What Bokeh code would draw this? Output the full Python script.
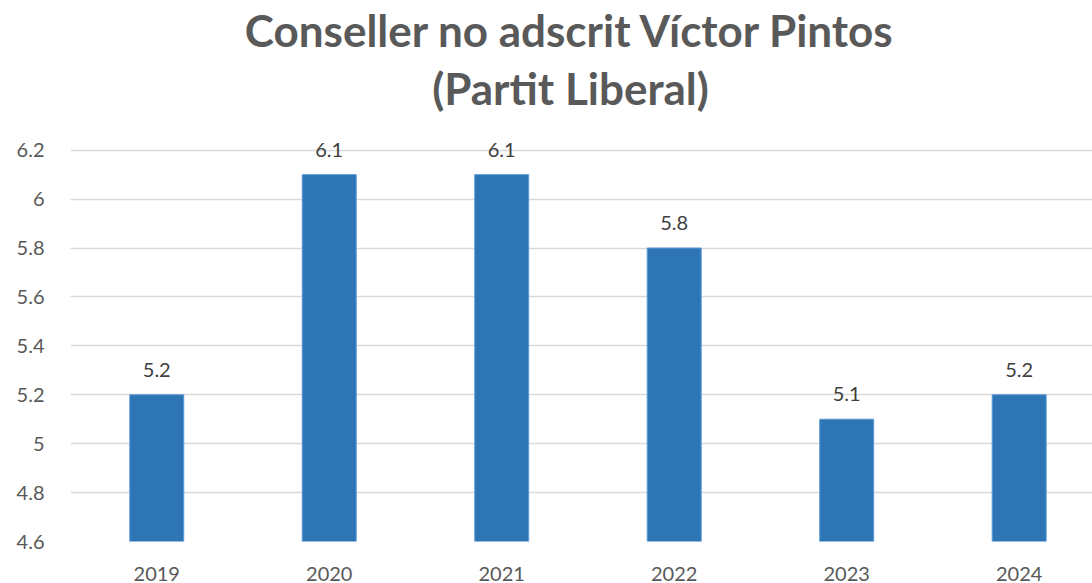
from bokeh.plotting import figure
from bokeh.models import Range1d, FixedTicker, Label, ColumnDataSource, LabelSet
from bokeh.core.properties import value
from bokeh.embed import file_html
from bokeh.resources import INLINE

years = [2019, 2020, 2021, 2022, 2023, 2024]
values = [5.2, 6.1, 6.1, 5.8, 5.1, 5.2]
labels = ["5.2", "6.1", "6.1", "5.8", "5.1", "5.2"]
y_ticks = [4.6, 4.8, 5.0, 5.2, 5.4, 5.6, 5.8, 6.0, 6.2]
y_tick_labels = {4.6: "4.6", 4.8: "4.8", 5.0: "5", 5.2: "5.2", 5.4: "5.4",
                 5.6: "5.6", 5.8: "5.8", 6.0: "6", 6.2: "6.2"}
title_line1 = "Conseller no adscrit Víctor Pintos"
title_line2 = "(Partit Liberal)"

FONT = "Lato"
GREY = "#595959"

src = ColumnDataSource(dict(x=years, top=values, label=labels))

# The plot frame reaches the top of the canvas so the title and the labels above the
# tallest bars are not clipped; gridlines and ticks stop at 6.2 via the fixed ticker.
p = figure(width=1092, height=583, output_backend="svg", toolbar_location=None,
           x_range=Range1d(2018.5, 2024.425), y_range=Range1d(4.6, 6.812),
           min_border_left=70, min_border_right=0, min_border_top=0,
           min_border_bottom=41)
p.title = None
p.outline_line_color = None
p.background_fill_color = "white"
p.border_fill_color = "white"

p.xgrid.grid_line_color = None
p.ygrid.grid_line_color = "#D9D9D9"
p.ygrid.grid_line_width = 1.5
p.ygrid.ticker = FixedTicker(ticks=y_ticks)

p.vbar(x="x", top="top", bottom=4.6, width=0.313, source=src,
       fill_color="#2E75B6", line_color="#5B9BD5", line_width=1)

p.add_layout(LabelSet(x="x", y="top", text="label", source=src, x_offset=0,
                      y_offset=18, text_align="center", text_baseline="alphabetic",
                      text_font=value(FONT), text_font_size="20px",
                      text_color="#404040"))

p.yaxis.ticker = FixedTicker(ticks=y_ticks)
p.yaxis.major_label_overrides = y_tick_labels
p.yaxis.axis_line_color = None
p.yaxis.major_tick_line_color = None
p.yaxis.minor_tick_line_color = None
p.yaxis.major_label_text_font = FONT
p.yaxis.major_label_text_font_size = "20px"
p.yaxis.major_label_text_color = GREY
p.yaxis.major_label_standoff = 20

p.xaxis.ticker = FixedTicker(ticks=years)
p.xaxis.axis_line_color = None
p.xaxis.major_tick_line_color = None
p.xaxis.minor_tick_line_color = None
p.xaxis.major_label_text_font = FONT
p.xaxis.major_label_text_font_size = "20px"
p.xaxis.major_label_text_color = GREY
p.xaxis.major_label_standoff = 19

for txt, ybase in ((title_line1, 512), (title_line2, 454)):
    p.add_layout(Label(x=500, y=ybase, x_units="screen", y_units="screen", text=txt,
                       text_align="center", text_baseline="alphabetic",
                       text_font=FONT, text_font_size="44px",
                       text_font_style="bold", text_color=GREY))

open("out.html", "w").write(file_html(p, INLINE))
